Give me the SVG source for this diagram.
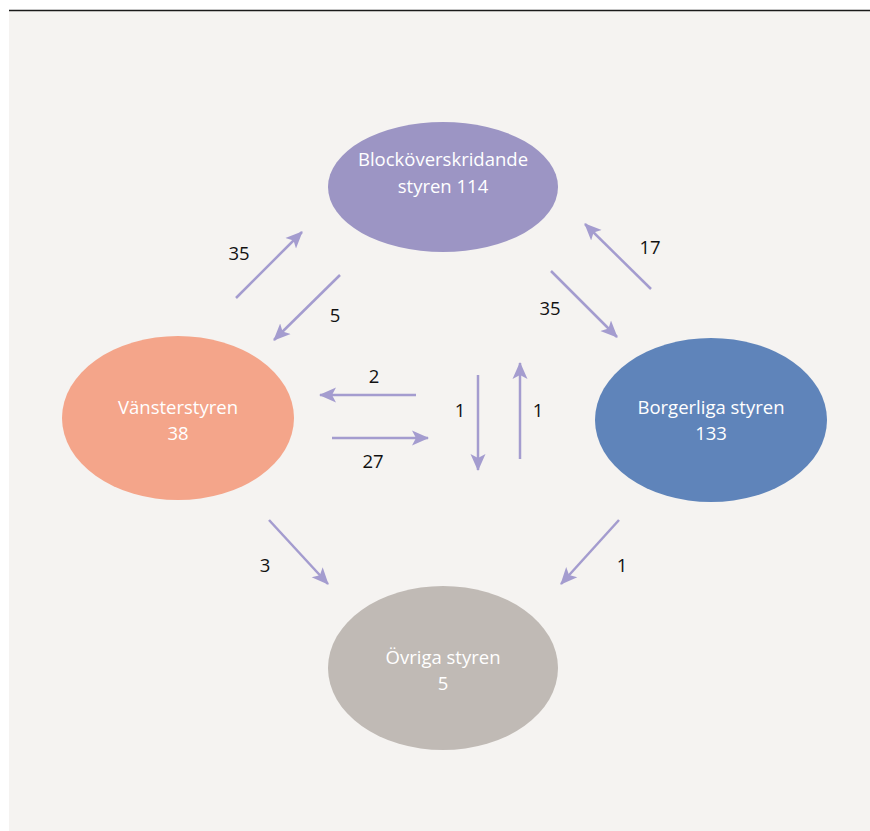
<svg xmlns="http://www.w3.org/2000/svg" width="870" height="831" viewBox="0 0 870 831">
<defs>
<style>
.node-label{font-family:"Open Sans","Liberation Sans",sans-serif;font-size:18.5px;fill:#ffffff;text-anchor:middle}
.num{font-family:"Open Sans","Liberation Sans",sans-serif;font-size:18.5px;fill:#111111;text-anchor:middle}
.conn{stroke:#a49ccf;stroke-width:2.5;fill:none;marker-end:url(#ah)}
</style>
<marker id="ah" markerUnits="userSpaceOnUse" markerWidth="18" markerHeight="16" refX="16" refY="8" orient="auto">
<path d="M0,0.5 L17,8 L0,15.5 L4,8 Z" fill="#a49ccf"/>
</marker>
</defs>
<rect x="0" y="0" width="870" height="831" fill="#ffffff"/>
<rect x="9" y="11" width="861" height="820" fill="#f5f3f1"/>
<line x1="9" y1="10.5" x2="870" y2="10.5" stroke="#1a1a1a" stroke-width="1.6"/>
<g id="node-block">
<ellipse cx="443" cy="187" rx="115" ry="65" fill="#9c95c4"/>
<text class="node-label" x="443" y="166">Blocköverskridande</text>
<text class="node-label" x="443" y="193">styren 114</text>
</g>
<g id="node-vanster">
<ellipse cx="178" cy="418" rx="116" ry="82" fill="#f4a58a"/>
<text class="node-label" x="178" y="414">Vänsterstyren</text>
<text class="node-label" x="178" y="440">38</text>
</g>
<g id="node-borgerliga">
<ellipse cx="711" cy="420" rx="116" ry="82" fill="#5f84ba"/>
<text class="node-label" x="711" y="414">Borgerliga styren</text>
<text class="node-label" x="711" y="440">133</text>
</g>
<g id="node-ovriga">
<ellipse cx="443" cy="668" rx="115" ry="82" fill="#c0bab5"/>
<text class="node-label" x="443" y="664">Övriga styren</text>
<text class="node-label" x="443" y="690">5</text>
</g>
<g id="connectors">
<line class="conn" x1="236" y1="298" x2="302" y2="232"/>
<line class="conn" x1="340" y1="275" x2="274" y2="340"/>
<line class="conn" x1="651" y1="289" x2="585" y2="224"/>
<line class="conn" x1="551" y1="271" x2="617" y2="337"/>
<line class="conn" x1="416" y1="395" x2="320" y2="395"/>
<line class="conn" x1="332" y1="438" x2="428" y2="438"/>
<line class="conn" x1="478" y1="375" x2="478" y2="470"/>
<line class="conn" x1="520" y1="459" x2="520" y2="363"/>
<line class="conn" x1="269" y1="520" x2="328" y2="584"/>
<line class="conn" x1="619" y1="520" x2="561" y2="584"/>
<text class="num" x="239" y="260">35</text>
<text class="num" x="335" y="322">5</text>
<text class="num" x="650" y="254">17</text>
<text class="num" x="550" y="315">35</text>
<text class="num" x="374" y="383">2</text>
<text class="num" x="373" y="468">27</text>
<text class="num" x="460" y="417">1</text>
<text class="num" x="538" y="417">1</text>
<text class="num" x="265" y="572">3</text>
<text class="num" x="622" y="572">1</text>
</g>
</svg>
